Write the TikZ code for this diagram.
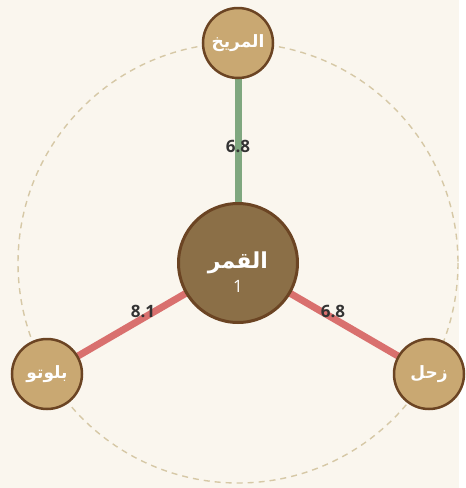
\documentclass[tikz,border=0pt]{standalone}
\usepackage{fontspec}
\usetikzlibrary{backgrounds}
\setmainfont{Open Sans}
\newfontfamily\arabicfont[Script=Arabic]{DejaVu Sans}
\TeXXeTstate=1
\definecolor{bgc}{HTML}{FAF6EE}
\definecolor{centerfill}{HTML}{8B6F47}
\definecolor{nodeborder}{HTML}{6B4423}
\definecolor{outerfill}{HTML}{C9A872}
\definecolor{greenline}{HTML}{7FA77F}
\definecolor{redline}{HTML}{D9706E}
\definecolor{dashc}{HTML}{D6C8A6}
\definecolor{labc}{HTML}{333333}
\pgfdeclarelayer{bottom}
\pgfsetlayers{bottom,background,main}
\tikzset{
  centernode/.style={circle, fill=centerfill, draw=nodeborder, line width=3pt, minimum size=119pt, inner sep=0pt},
  centertext/.style={text=white, inner sep=0pt},
  outernode/.style={circle, fill=outerfill, draw=nodeborder, line width=2.5pt, minimum size=70pt, inner sep=0pt, text=white, font=\arabicfont\bfseries\fontsize{17}{19}\selectfont},
  greenedge/.style={draw=greenline, line width=7pt},
  rededge/.style={draw=redline, line width=7pt},
  edgelab/.style={text=labc, font=\bfseries\fontsize{17}{19}\selectfont, inner sep=1pt}
}
\begin{document}
\begin{tikzpicture}[x=1pt,y=-1pt]
\begin{pgfonlayer}{bottom}
\useasboundingbox[fill=bgc] (0,0) rectangle (459,488);
\draw[dashc, line width=1.4pt, dash pattern=on 6pt off 5pt] (238,263) circle (220);
\end{pgfonlayer}
\node[centernode] (moon) at (238,263) {};
\node[centertext, font=\arabicfont\bfseries\fontsize{22}{24}\selectfont] (moonname) at (238,263) {\beginR القمر\endR};
\node[centertext, font=\fontsize{17}{19}\selectfont] (moonnum) at (238,286) {1};
\node[outernode] (mars) at (238,43) {\beginR المريخ\endR};
\node[outernode] (pluto) at (47,374) {\beginR بلوتو\endR};
\node[outernode] (saturn) at (429,374) {\beginR زحل\endR};
\begin{scope}[on background layer]
\path[greenedge] (moon.center) -- (mars.center);
\path[rededge] (moon.center) -- (pluto.center);
\path[rededge] (moon.center) -- (saturn.center);
\end{scope}
\node[edgelab] (l1) at (238,146) {6.8};
\node[edgelab] (l2) at (143,311) {8.1};
\node[edgelab] (l3) at (333,311) {6.8};
\end{tikzpicture}
\end{document}
